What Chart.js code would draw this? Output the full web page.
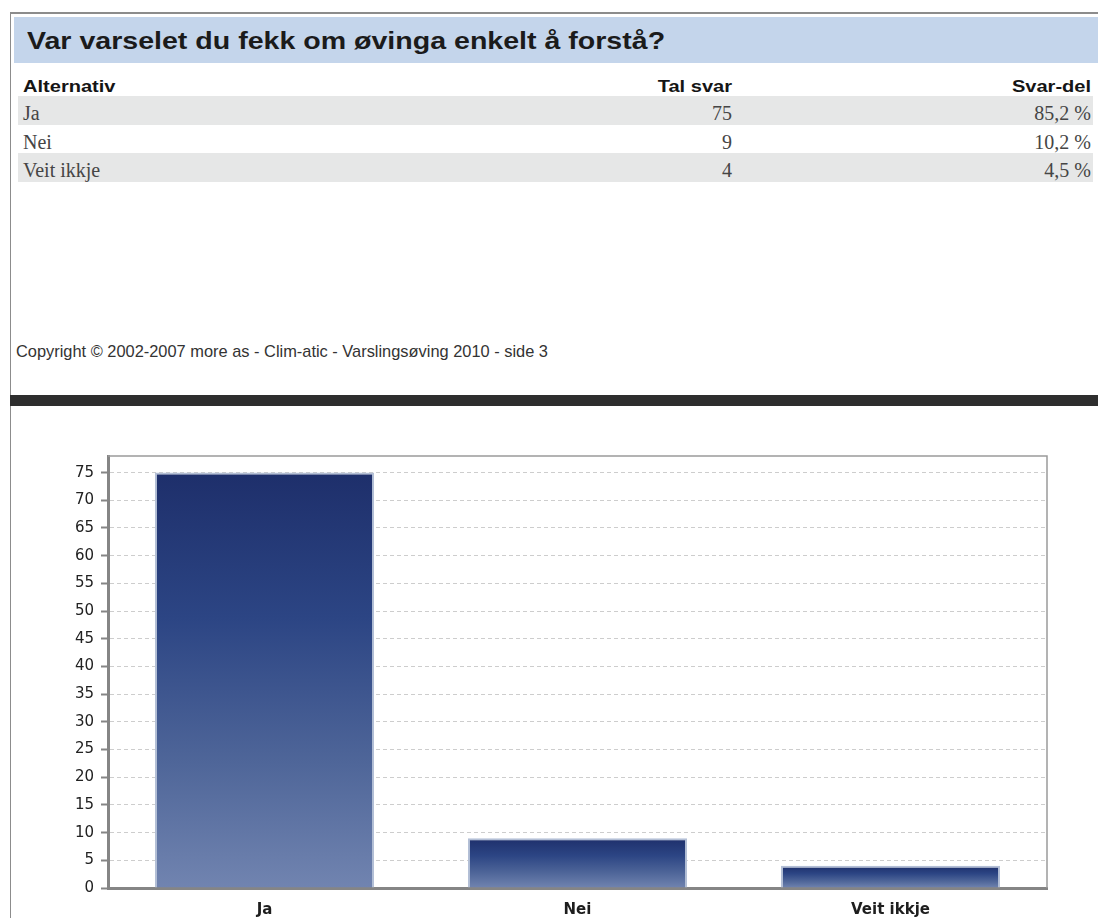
<!DOCTYPE html>
<html lang="nn">
<head>
<meta charset="utf-8">
<title>Varslingsøving 2010 - side 3</title>
<script src="https://cdn.jsdelivr.net/npm/chart.js@4/dist/chart.umd.min.js"></script>
<style>
    html, body { margin: 0; padding: 0; background: #fff; }
    body {
        width: 1098px; height: 918px; position: relative; overflow: hidden;
        font-family: Arial, "Liberation Sans", sans-serif;
    }
    .ramme {
        position: absolute; left: 10px; top: 12px; width: 1100px; height: 920px;
        border-left: 1px solid #8c8c8c; border-top: 2px solid #8c8c8c;
    }
    .tittel {
        position: absolute; left: 14px; top: 17px; width: 1084px; height: 46px;
        background: #c4d5eb;
    }
    .tittel h1 {
        position: absolute; left: 13px; top: 12px; margin: 0;
        font-size: 24px; line-height: 24px; font-weight: bold; color: #1b1b1b;
        white-space: nowrap; transform: scaleX(1.19); transform-origin: left center;
    }
    .tekst { position: absolute; white-space: nowrap; }
    .hovud {
        top: 78px; font-size: 17px; line-height: 17px; font-weight: bold; color: #151515;
        transform: scaleX(1.18);
    }
    .rad { position: absolute; left: 18px; width: 1075px; }
    .rad.grå { background: #e6e7e7; }
    .celle {
        font-family: "Liberation Serif", "Times New Roman", serif;
        font-size: 20px; line-height: 20px; color: #454545;
    }
    .k1 { left: 23px; transform-origin: left center; }
    .k2 { right: 366px; transform-origin: right center; }
    .k3 { right: 7px; transform-origin: right center; }
    .kopi {
        left: 16px; top: 343px; font-size: 16.4px; line-height: 16.4px; color: #333;
    }
    .skilje {
        position: absolute; left: 10px; top: 395px; width: 1088px; height: 11px;
        background: #2e2e2e;
    }
    .graf { position: absolute; left: 10px; top: 406px; width: 1088px; height: 512px; }
</style>
</head>
<body>
<div class="ramme"></div>
<div class="tittel"><h1>Var varselet du fekk om øvinga enkelt å forstå?</h1></div>
<div id="tabell"></div>
<div class="tekst kopi">Copyright © 2002-2007 more as - Clim-atic - Varslingsøving 2010 - side 3</div>
<div class="skilje"></div>
<div class="graf"><canvas id="grafSvar" width="1088" height="512"></canvas></div>

<script>
const kolonnar = ['Alternativ', 'Tal svar', 'Svar-del'];
const alternativ = ['Ja', 'Nei', 'Veit ikkje'];
const talSvar = [75, 9, 4];
const svarDel = ['85,2 %', '10,2 %', '4,5 %'];
const yTikk = [0, 5, 10, 15, 20, 25, 30, 35, 40, 45, 50, 55, 60, 65, 70, 75];
const yMaks = 78;

// Tabellen over grafen: overskrift og ei rad per alternativ
const radTopp = 96;
const radHogd = 28.5;
let html = kolonnar.map((k, i) => `<div class="tekst hovud k${i + 1}">${k}</div>`).join('');
alternativ.forEach((alt, i) => {
    const topp = radTopp + i * radHogd;
    html += `<div class="rad${i % 2 === 0 ? ' grå' : ''}" style="top:${topp}px;height:${radHogd}px"></div>`;
    [alt, talSvar[i], svarDel[i]].forEach((v, j) => {
        html += `<div class="tekst celle k${j + 1}" style="top:${topp + 7}px">${v}</div>`;
    });
});
document.getElementById('tabell').innerHTML = html;

// Tynn ramme oppe og til høgre rundt plottet
const plotRamme = {
    id: 'plotRamme',
    afterDraw(chart) {
        const { ctx, chartArea: a } = chart;
        ctx.save();
        ctx.strokeStyle = '#9a9a9a';
        ctx.lineWidth = 1.5;
        ctx.beginPath();
        ctx.moveTo(a.left, a.top);
        ctx.lineTo(a.right, a.top);
        ctx.lineTo(a.right, a.bottom);
        ctx.stroke();
        ctx.restore();
    }
};

function stolpeFarge(context) {
    const chart = context.chart;
    const y = chart.scales.y;
    if (!chart.chartArea || !y || context.type !== 'data') return '#2c4584';
    const topp = y.getPixelForValue(context.raw);
    const botn = y.getPixelForValue(0);
    const g = chart.ctx.createLinearGradient(0, topp, 0, botn);
    g.addColorStop(0, '#1e2f6b');
    g.addColorStop(0.35, '#2c4584');
    g.addColorStop(0.7, '#4f6699');
    g.addColorStop(1, '#7184b0');
    return g;
}

new Chart(document.getElementById('grafSvar').getContext('2d'), {
    type: 'bar',
    data: {
        labels: alternativ,
        datasets: [{
            label: 'Tal svar',
            data: talSvar,
            backgroundColor: stolpeFarge,
            borderColor: '#b3bfd6',
            borderWidth: 2,
            barPercentage: 0.7,
            categoryPercentage: 1.0
        }]
    },
    options: {
        responsive: false,
        animation: false,
        layout: { padding: { left: 0, right: 51, top: 50, bottom: 0 } },
        plugins: {
            legend: { display: false },
            tooltip: { enabled: false }
        },
        scales: {
            x: {
                grid: { display: false },
                border: { color: '#858585', width: 3 },
                ticks: {
                    color: '#1e1e1e',
                    padding: 5,
                    font: { family: '"DejaVu Sans", Verdana, sans-serif', size: 15, weight: 'bold' }
                },
                afterFit(scale) { scale.height = 30; }
            },
            y: {
                min: 0,
                max: yMaks,
                afterBuildTicks(scale) {
                    scale.ticks = yTikk.map(v => ({ value: v }));
                },
                ticks: {
                    color: '#222',
                    padding: 7,
                    font: { family: '"DejaVu Sans", Verdana, sans-serif', size: 15 }
                },
                grid: {
                    color: '#cdcdcd',
                    lineWidth: 1,
                    tickLength: 7,
                    tickColor: '#858585',
                    tickWidth: 2,
                    tickBorderDash: []
                },
                border: { color: '#858585', width: 3, dash: [4, 3] },
                afterFit(scale) { scale.width = 98; }
            }
        }
    },
    plugins: [plotRamme]
});
</script>
</body>
</html>
